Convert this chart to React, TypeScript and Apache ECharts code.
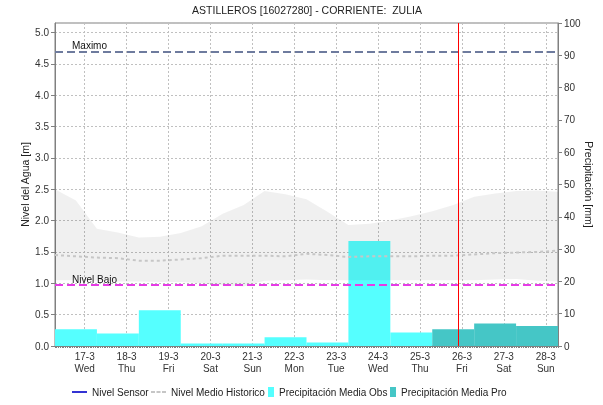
import React, { useEffect, useRef } from 'react';
import * as echarts from 'echarts';

// ---- data ----
const chartTitle = 'ASTILLEROS [16027280] - CORRIENTE:  ZULIA';
const startUTC = [2021, 2, 16, 7]; // 16-3 07:00, first precipitation day start
const totalHours = 288; // 12 days

const dayLabels = ['17-3', '18-3', '19-3', '20-3', '21-3', '22-3', '23-3', '24-3', '25-3', '26-3', '27-3', '28-3'];
const weekdayLabels = ['Wed', 'Thu', 'Fri', 'Sat', 'Sun', 'Mon', 'Tue', 'Wed', 'Thu', 'Fri', 'Sat', 'Sun'];

// daily precipitation [mm], each bar spans 24 h (07:00 -> 07:00)
const precipObs = [5.2, 3.9, 11.1, 0.8, 0.8, 2.7, 1.1, 32.5, 4.2];
const precipPro = [5.2, 7.0, 6.2];
const barHours = 24;

// historical band and mean [m], one value every 12 h
const bandStepHours = 12;
const bandUpper = [2.50, 2.32, 1.87, 1.81, 1.73, 1.74, 1.80, 1.91, 2.11, 2.25, 2.47, 2.42, 2.34, 2.14, 1.93, 1.95, 2.00, 2.07, 2.15, 2.25, 2.38, 2.43, 2.47, 2.48, 2.46];
const bandLower = [1.05, 1.05, 1.04, 1.03, 1.03, 1.02, 1.02, 1.00, 0.97, 0.95, 1.04, 1.05, 1.06, 1.05, 1.05, 1.05, 1.05, 1.05, 1.05, 1.05, 1.05, 1.06, 1.07, 1.04, 1.03];
const histMean = [1.45, 1.43, 1.41, 1.40, 1.36, 1.36, 1.38, 1.40, 1.44, 1.44, 1.44, 1.43, 1.47, 1.45, 1.42, 1.43, 1.43, 1.43, 1.44, 1.44, 1.46, 1.48, 1.49, 1.50, 1.52];

const nivelMaximo = 4.69;
const nivelBajo = 0.98;
const nowHourIndex = 231; // 25-3 22:00

const leftMax = 5.15;
const rightMax = 100;

// ---- helpers ----
const pad = (n: number) => (n < 10 ? '0' + n : '' + n);
const hourCategories: string[] = [];
for (let h = 0; h <= totalHours; h++) {
  const d = new Date(Date.UTC(startUTC[0], startUTC[1], startUTC[2], startUTC[3] + h));
  hourCategories.push(`${d.getUTCDate()}-${d.getUTCMonth() + 1} ${pad(d.getUTCHours())}:00`);
}
const isMidnight = (_i: number, v: string) => v.endsWith(' 00:00');
const labelFor = (v: string) => {
  if (!v.endsWith(' 00:00')) return '';
  const day = v.split(' ')[0];
  const k = dayLabels.indexOf(day);
  return k >= 0 ? day + '\n' + weekdayLabels[k] : day;
};

const obsData = precipObs.map((v, i) => [i * barHours, (i + 1) * barHours, v]);
const proOffset = precipObs.length * barHours;
const proData = precipPro.map((v, i) => [proOffset + i * barHours, proOffset + (i + 1) * barHours, v]);

const lowerData = bandLower.map((v, i) => [i * bandStepHours, v]);
const rangeData = bandUpper.map((v, i) => [i * bandStepHours, +(v - bandLower[i]).toFixed(3)]);
const meanData = histMean.map((v, i) => [i * bandStepHours, v]);

const FONT = '"Liberation Sans", Arial, sans-serif';

const barRender = (color: string) => (params: any, api: any) => {
  const p0 = api.coord([api.value(0), api.value(2)]);
  const p1 = api.coord([api.value(1), 0]);
  return {
    type: 'rect',
    shape: { x: p0[0], y: p0[1], width: p1[0] - p0[0], height: p1[1] - p0[1] },
    style: { fill: color },
  };
};

const SOLID_ICON = 'path://M0,0H15V1.6H0Z';
const DASH_ICON = 'path://M0,0H4V2H0Z M5.5,0H9.5V2H5.5Z M11,0H15V2H11Z';

export default function App() {
  const ref = useRef<HTMLDivElement>(null);
  useEffect(() => {
    if (!ref.current) return;
    const chart = echarts.init(ref.current, undefined, { renderer: 'svg' });
    const legendText = { fontSize: 10, color: '#222', fontFamily: FONT };
    chart.setOption({
      animation: false,
      textStyle: { fontFamily: FONT },
      title: {
        text: chartTitle,
        left: 307,
        textAlign: 'center',
        top: 4,
        padding: 0,
        textStyle: { fontSize: 10.5, fontWeight: 'normal', color: '#222', fontFamily: FONT },
      },
      legend: [
        { data: [{ name: 'Nivel Sensor', icon: SOLID_ICON }], left: 72, top: 387, padding: 0, itemWidth: 15, itemHeight: 10, textStyle: legendText },
        { data: [{ name: 'Nivel Medio Historico', icon: DASH_ICON }], left: 151, top: 387, padding: 0, itemWidth: 15, itemHeight: 10, textStyle: legendText },
        { data: ['Precipitación Media Obs'], left: 268, top: 387, padding: 0, itemWidth: 6, itemHeight: 10, icon: 'rect', textStyle: legendText },
        { data: ['Precipitación Media Pro'], left: 390, top: 387, padding: 0, itemWidth: 6, itemHeight: 10, icon: 'rect', textStyle: legendText },
      ],
      grid: { left: 55, right: 45, top: 23, bottom: 59, show: true, borderColor: '#808080', borderWidth: 1, outerBoundsMode: 'none', containLabel: false },
      xAxis: {
        type: 'category',
        data: hourCategories,
        boundaryGap: false,
        axisLine: { lineStyle: { color: '#808080' } },
        axisTick: { show: true, interval: 0, length: 2, lineStyle: { color: '#808080' } },
        axisLabel: { interval: isMidnight, formatter: labelFor, fontSize: 10, lineHeight: 12, color: '#333', margin: 4 },
        splitLine: { show: true, interval: isMidnight, lineStyle: { color: '#c0c0c0', type: [2, 2] } },
      },
      yAxis: [
        {
          type: 'value', min: 0, max: leftMax, interval: 0.5, position: 'left',
          name: 'Nivel del Agua [m]', nameLocation: 'middle', nameGap: 25, nameMoveOverlap: false,
          nameTextStyle: { fontSize: 10.5, color: '#222' },
          axisLine: { show: true, lineStyle: { color: '#808080' } },
          axisTick: { show: true, length: 4, lineStyle: { color: '#808080' } },
          axisLabel: { showMaxLabel: false, formatter: (v: number) => v.toFixed(1), fontSize: 10, color: '#333', margin: 6 },
          splitLine: { show: true, lineStyle: { color: '#c0c0c0', type: [2, 2] } },
        },
        {
          type: 'value', min: 0, max: rightMax, interval: 10, position: 'right',
          name: 'Precipitación [mm]', nameLocation: 'middle', nameGap: 25, nameRotate: -90, nameMoveOverlap: false,
          nameTextStyle: { fontSize: 10.5, color: '#222' },
          axisLine: { show: true, lineStyle: { color: '#808080' } },
          axisTick: { show: true, length: 4, lineStyle: { color: '#808080' } },
          axisLabel: { fontSize: 10, color: '#333', margin: 6 },
          splitLine: { show: false },
        },
      ],
      series: [
        {
          name: 'Precipitación Media Obs', type: 'custom', yAxisIndex: 1,
          encode: { x: [0, 1], y: 2 }, itemStyle: { color: '#55FFFF' },
          renderItem: barRender('#55FFFF'), data: obsData, clip: true,
        },
        {
          name: 'Precipitación Media Pro', type: 'custom', yAxisIndex: 1,
          encode: { x: [0, 1], y: 2 }, itemStyle: { color: '#45C6C6' },
          renderItem: barRender('#45C6C6'), data: proData, clip: true,
        },
        {
          name: 'bandLower', type: 'line', stack: 'band', symbol: 'none', silent: true,
          lineStyle: { opacity: 0 }, data: lowerData,
        },
        {
          name: 'bandRange', type: 'line', stack: 'band', symbol: 'none', silent: true,
          lineStyle: { opacity: 0 }, areaStyle: { color: 'rgba(0,0,0,0.06)', opacity: 1 }, data: rangeData,
        },
        {
          name: 'Nivel Sensor', type: 'line', symbol: 'none',
          lineStyle: { color: '#0000C8', width: 1.5 }, itemStyle: { color: '#0000C8' }, data: [],
        },
        {
          name: 'Nivel Medio Historico', type: 'line', symbol: 'none',
          lineStyle: { color: '#c6c6c6', width: 2, type: [3, 3] }, itemStyle: { color: '#c6c6c6' },
          data: meanData,
          markLine: {
            silent: true, symbol: ['none', 'none'],
            data: [
              {
                name: 'Maximo', yAxis: nivelMaximo,
                lineStyle: { color: '#6E7B9E', width: 2, type: [8, 4] },
                label: { show: true, formatter: '{b}', position: 'insideStartTop', color: '#111', fontSize: 10, padding: [0, 0, 0, 16], distance: 1 },
              },
              {
                name: 'Nivel Bajo', yAxis: nivelBajo,
                lineStyle: { color: '#E63CE6', width: 2, type: [8, 4] },
                label: { show: true, formatter: '{b}', position: 'insideStartTop', color: '#111', fontSize: 10, padding: [0, 0, 0, 17], distance: 0 },
              },
              {
                name: 'now', xAxis: hourCategories[nowHourIndex],
                lineStyle: { color: '#FF0000', width: 1, type: 'solid' },
                label: { show: false },
              },
            ],
          },
        },
      ],
    });
    return () => chart.dispose();
  }, []);
  return <div ref={ref} style={{ position: 'fixed', left: 0, top: 0, width: 603, height: 405 }} />;
}
